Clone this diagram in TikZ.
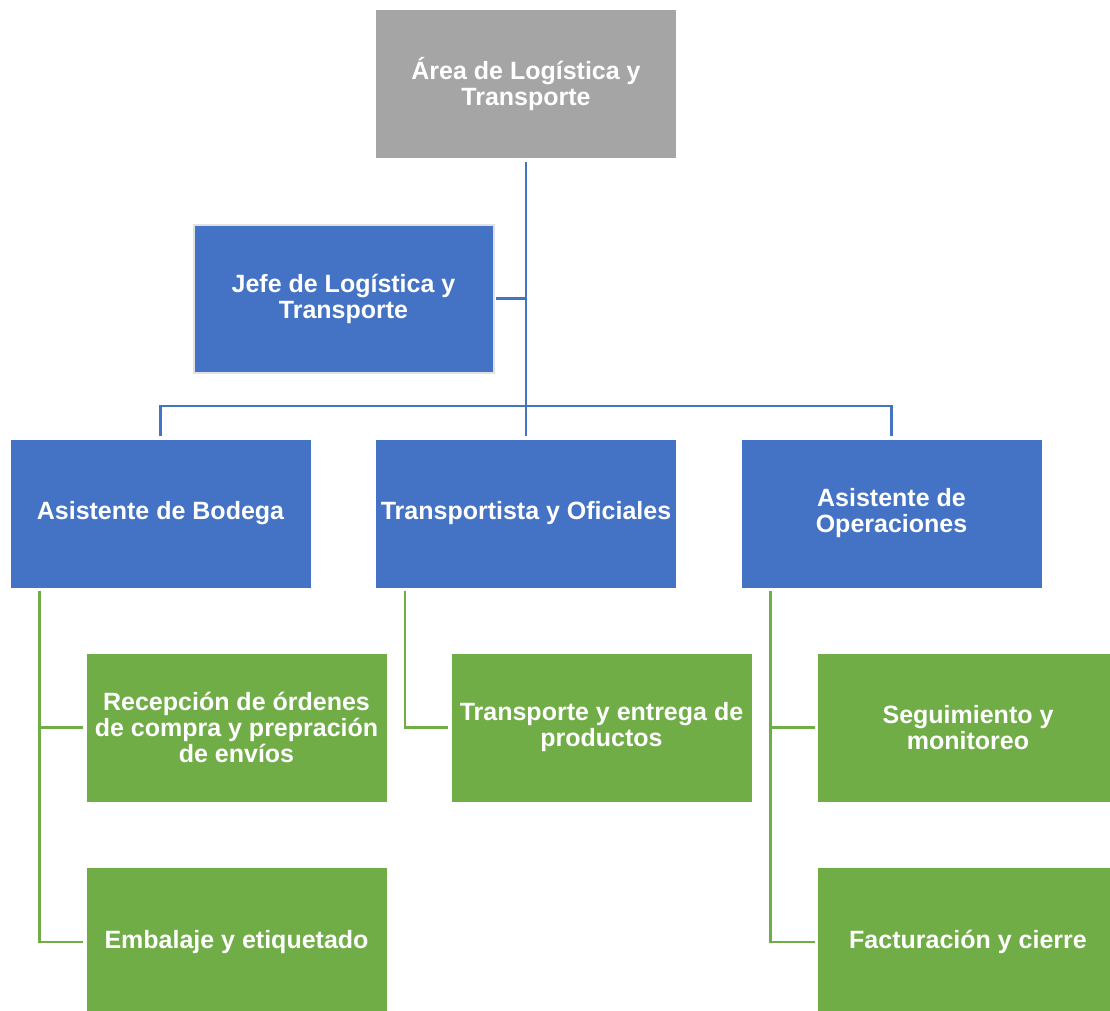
\documentclass[tikz,border=0pt]{standalone}
\usepackage{fontspec}
\setmainfont{Liberation Sans}
\definecolor{areagray}{HTML}{A5A5A5}
\definecolor{cargoblue}{HTML}{4472C4}
\definecolor{tareagreen}{HTML}{70AD47}
\definecolor{jefeedge}{HTML}{E2E2E2}
\tikzset{
  caja/.style={minimum width=300pt, minimum height=148pt, inner sep=0pt,
    align=center, text=white, font=\bfseries\fontsize{25}{26}\selectfont},
  area/.style={caja, fill=areagray},
  cargo/.style={caja, fill=cargoblue},
  tarea/.style={caja, fill=tareagreen},
  lineaazul/.style={draw=cargoblue, line width=2.8pt},
  lineaverde/.style={draw=tareagreen, line width=2.6pt}
}
\begin{document}
\begin{tikzpicture}[x=1pt,y=-1pt]
  \useasboundingbox (0,0) rectangle (1110,1011);
  \clip (0,0) rectangle (1110,1011);
  % jerarquia
  \node [area] (areaLT) at (526,84) {Área de Logística y\\Transporte};
  \node [cargo, draw=jefeedge, line width=2pt] (jefe) at (343.5,298.5) {Jefe de Logística y\\Transporte};
  \node [cargo] (bodega) at (160.5,513.5) {Asistente de Bodega};
  \node [cargo] (transp) at (526,513.5) {Transportista y Oficiales};
  \node [cargo] (oper) at (891.5,513.5) {Asistente de\\Operaciones};
  % tareas
  \node [tarea] (recep) at (236.5,727.5) {Recepción de órdenes\\de compra y prepración\\de envíos};
  \node [tarea] (emb) at (236.5,942) {Embalaje y etiquetado};
  \node [tarea] (entrega) at (601.5,727.5) {Transporte y entrega de\\productos};
  \node [tarea] (segui) at (968,727.5) {Seguimiento y\\monitoreo};
  \node [tarea] (factu) at (968,942) {Facturación y cierre};
  % conectores
  \coordinate (hub) at (526,406);
  \draw [lineaazul] ([yshift=-4pt]areaLT.south) -- ([yshift=3pt]transp.north);
  \draw [lineaazul] ([xshift=1pt]jefe.east) -- (jefe.east -| areaLT.south);
  \draw [lineaazul] ([yshift=3pt]bodega.north) |- (hub) -| ([yshift=3pt]oper.north);
  \coordinate (bodegapie) at ([xshift=29pt,yshift=-3pt]bodega.south west);
  \coordinate (transppie) at ([xshift=29pt,yshift=-3pt]transp.south west);
  \coordinate (operpie) at ([xshift=29pt,yshift=-3pt]oper.south west);
  \draw [lineaverde] (bodegapie) |- ([xshift=-3pt]emb.west);
  \draw [lineaverde] (bodegapie |- recep.west) -- ([xshift=-3pt]recep.west);
  \draw [lineaverde] (transppie) |- ([xshift=-3pt]entrega.west);
  \draw [lineaverde] (operpie) |- ([xshift=-3pt]factu.west);
  \draw [lineaverde] (operpie |- segui.west) -- ([xshift=-3pt]segui.west);
\end{tikzpicture}
\end{document}
